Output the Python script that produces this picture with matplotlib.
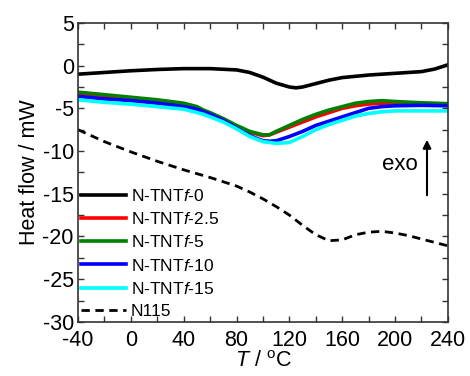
import numpy as np
import matplotlib.pyplot as plt
from matplotlib.ticker import MultipleLocator

plt.rcParams['font.family'] = ['Liberation Sans', 'DejaVu Sans']
plt.rcParams['mathtext.fontset'] = 'custom'
plt.rcParams['mathtext.it'] = 'Liberation Sans:italic'
plt.rcParams['mathtext.rm'] = 'Liberation Sans'
plt.rcParams['axes.unicode_minus'] = False

# DSC curves
t_f0 = [-40, -20, 0, 20, 40, 60, 80, 90, 100, 110, 120, 125, 130, 140, 145, 150,
        160, 180, 200, 220, 230, 240]
hf_f0 = [-1.0, -0.8, -0.6, -0.45, -0.35, -0.35, -0.5, -0.8, -1.35, -2.05, -2.5, -2.6,
         -2.5, -2.1, -1.9, -1.7, -1.4, -1.1, -0.9, -0.7, -0.4, 0.1]

t_c = [-40, -20, 0, 20, 40, 50, 55, 60, 70, 80, 90, 100, 105, 110, 120, 130, 140,
       150, 160, 170, 180, 190, 200, 220, 240]
hf_f25 = [-3.3, -3.6, -3.9, -4.2, -4.6, -5.0, -5.3, -5.6, -6.3, -7.1, -7.8, -8.2, -8.1,
          -7.8, -7.2, -6.6, -6.0, -5.5, -5.0, -4.7, -4.5, -4.4, -4.45, -4.5, -4.55]
hf_f5 = [-3.1, -3.4, -3.7, -4.0, -4.4, -4.8, -5.2, -5.5, -6.2, -7.0, -7.7, -8.1, -8.1,
         -7.7, -7.0, -6.3, -5.7, -5.2, -4.8, -4.4, -4.2, -4.1, -4.2, -4.35, -4.45]
hf_f10 = [-3.6, -3.9, -4.1, -4.4, -4.8, -5.1, -5.4, -5.7, -6.4, -7.3, -8.2, -8.8, -8.85,
          -8.8, -8.3, -7.7, -7.0, -6.5, -6.0, -5.5, -5.0, -4.8, -4.7, -4.65, -4.7]
hf_f15 = [-4.0, -4.3, -4.5, -4.8, -5.1, -5.5, -5.7, -6.0, -6.6, -7.4, -8.3, -8.9, -9.0,
          -9.1, -9.0, -8.3, -7.5, -6.9, -6.4, -5.9, -5.6, -5.4, -5.3, -5.3, -5.3]

t_n115 = [-40, -20, 0, 20, 40, 60, 80, 90, 100, 110, 120, 130, 140, 150, 160, 170,
          180, 190, 200, 210, 220, 230, 240]
hf_n115 = [-7.5, -8.9, -10.1, -11.2, -12.2, -13.1, -14.1, -14.8, -15.6, -16.5, -17.5,
           -18.7, -19.8, -20.5, -20.4, -19.8, -19.5, -19.4, -19.6, -19.9, -20.3, -20.7,
           -21.1]

fig = plt.figure(figsize=(4.7, 3.76), dpi=100)
ax = fig.add_axes([0.166, 0.144, 0.787, 0.795])

ax.plot(t_f0, hf_f0, color='black', lw=2.6, label='N-TNT$\\it{f}$-0')
ax.plot(t_c, hf_f25, color='red', lw=2.6, label='N-TNT$\\it{f}$-2.5')
ax.plot(t_c, hf_f5, color='green', lw=2.6, label='N-TNT$\\it{f}$-5')
ax.plot(t_c, hf_f10, color='blue', lw=2.6, label='N-TNT$\\it{f}$-10')
ax.plot(t_c, hf_f15, color='cyan', lw=2.6, label='N-TNT$\\it{f}$-15')
ax.plot(t_n115, hf_n115, color='black', lw=2, ls=(0, (3, 2)), label='N115')

ax.set_xlim(-40, 240)
ax.set_ylim(-30, 5)
ax.xaxis.set_major_locator(MultipleLocator(40))
ax.xaxis.set_minor_locator(MultipleLocator(20))
ax.yaxis.set_major_locator(MultipleLocator(5))
ax.yaxis.set_minor_locator(MultipleLocator(2.5))
ax.tick_params(which='both', direction='in', top=True, right=True, labelsize=15.5,
               color='#333333')
ax.tick_params(which='both', length=4, width=1)
ax.tick_params(axis='x', pad=6)
ax.tick_params(axis='y', pad=3)
for s in ax.spines.values():
    s.set_color('#333333')
    s.set_linewidth(1.2)

ax.set_xlabel('$\\it{T}$ / $\\mathregular{^o}$C', fontsize=15.5, labelpad=0)
ax.set_ylabel('Heat flow / mW', fontsize=15.5, labelpad=2)

fig.text(400 / 470, 1 - 165 / 376, 'exo', fontsize=16, ha='center', va='center')
ax.annotate('', xy=(427 / 470, 1 - 137 / 376), xytext=(427 / 470, 1 - 198 / 376),
            xycoords='figure fraction',
            arrowprops=dict(arrowstyle='-|>', color='black', lw=1.5,
                            mutation_scale=12))

ax.legend(loc='lower left', bbox_to_anchor=(0.0, 0.0), frameon=False,
          fontsize=12.5, handlelength=2.6, handletextpad=0.3, labelspacing=0.42,
          borderaxespad=0.05, borderpad=0.1)

fig.savefig('out.png', dpi=100)
